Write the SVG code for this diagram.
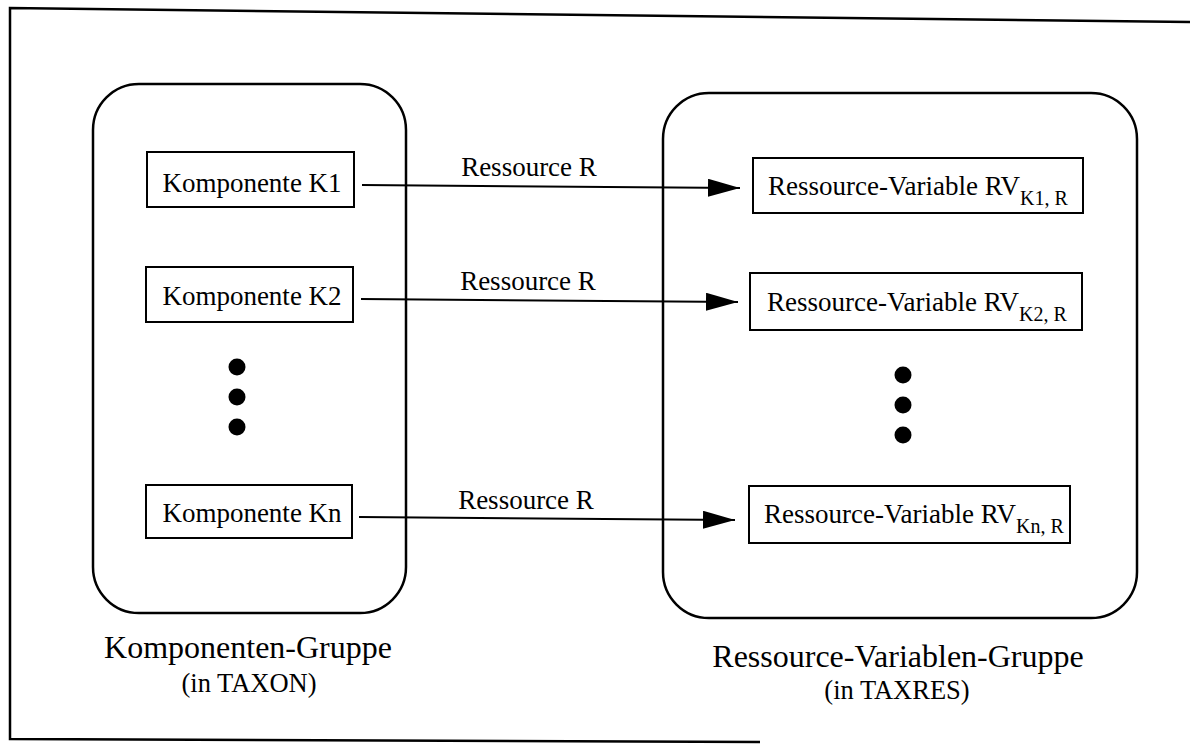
<svg xmlns="http://www.w3.org/2000/svg" width="1190" height="746" viewBox="0 0 1190 746">
<defs>
<style>
.frame{fill:none;stroke:#000;stroke-width:2.5}
.grp{fill:none;stroke:#000;stroke-width:2.5}
.box{fill:#fff;stroke:#000;stroke-width:2}
.t{font-family:"Liberation Serif","Times New Roman",serif;fill:#000}
.bt{font-size:27px}
.lbl{font-size:27px}
.sub{font-size:20px}
.big{font-size:32px}
.small{font-size:26.5px}
.conn{stroke:#000;stroke-width:2;fill:none}
.dot{fill:#000}
</style>
<marker id="arr" viewBox="0 0 32 18" refX="32" refY="9" markerWidth="32" markerHeight="18" markerUnits="userSpaceOnUse" orient="auto">
<path d="M0,0 L32,9 L0,18 Z" fill="#000"/>
</marker>
</defs>
<rect width="1190" height="746" fill="#fff"/>
<path class="frame" d="M1190,22 L10,8 L10,739 L760,742"/>

<g id="komponenten-gruppe">
<rect class="grp" x="93" y="84" width="313" height="529" rx="46" ry="46"/>
<text class="t big" x="248" y="658" text-anchor="middle">Komponenten-Gruppe</text>
<text class="t small" x="249" y="692" text-anchor="middle">(in TAXON)</text>
</g>

<g id="ressource-variablen-gruppe">
<rect class="grp" x="663" y="93" width="474" height="525" rx="46" ry="46"/>
<text class="t big" x="898" y="667" text-anchor="middle">Ressource-Variablen-Gruppe</text>
<text class="t small" x="897" y="699" text-anchor="middle">(in TAXRES)</text>
</g>

<g id="k1">
<rect class="box" x="147" y="152" width="207" height="55"/>
<text class="t bt" x="252" y="192" text-anchor="middle">Komponente K1</text>
</g>
<g id="k2">
<rect class="box" x="146" y="267" width="207" height="55"/>
<text class="t bt" x="252" y="305" text-anchor="middle">Komponente K2</text>
</g>
<g id="kn">
<rect class="box" x="146" y="485" width="206" height="53"/>
<text class="t bt" x="252" y="522" text-anchor="middle">Komponente Kn</text>
</g>
<g id="dots-left">
<circle class="dot" cx="237" cy="367" r="8.5"/>
<circle class="dot" cx="237" cy="397" r="8.5"/>
<circle class="dot" cx="237" cy="427" r="8.5"/>
</g>

<g id="rv1">
<rect class="box" x="753" y="158" width="330" height="55"/>
<text class="t bt" x="768" y="195">Ressource-Variable RV<tspan class="sub" dy="10">K1, R</tspan></text>
</g>
<g id="rv2">
<rect class="box" x="750" y="273" width="332" height="57"/>
<text class="t bt" x="767" y="311">Ressource-Variable RV<tspan class="sub" dy="10">K2, R</tspan></text>
</g>
<g id="rvn">
<rect class="box" x="749" y="486" width="321" height="57"/>
<text class="t bt" x="764" y="523">Ressource-Variable RV<tspan class="sub" dy="10">Kn, R</tspan></text>
</g>
<g id="dots-right">
<circle class="dot" cx="903" cy="375" r="8.5"/>
<circle class="dot" cx="903" cy="405" r="8.5"/>
<circle class="dot" cx="903" cy="435" r="8.5"/>
</g>

<g id="connectors">
<line class="conn" x1="362" y1="185" x2="740" y2="188" marker-end="url(#arr)"/>
<line class="conn" x1="361" y1="299" x2="738" y2="302" marker-end="url(#arr)"/>
<line class="conn" x1="359" y1="517" x2="735" y2="520" marker-end="url(#arr)"/>
<text class="t lbl" x="529" y="176" text-anchor="middle">Ressource R</text>
<text class="t lbl" x="528" y="290" text-anchor="middle">Ressource R</text>
<text class="t lbl" x="526" y="509" text-anchor="middle">Ressource R</text>
</g>
</svg>
